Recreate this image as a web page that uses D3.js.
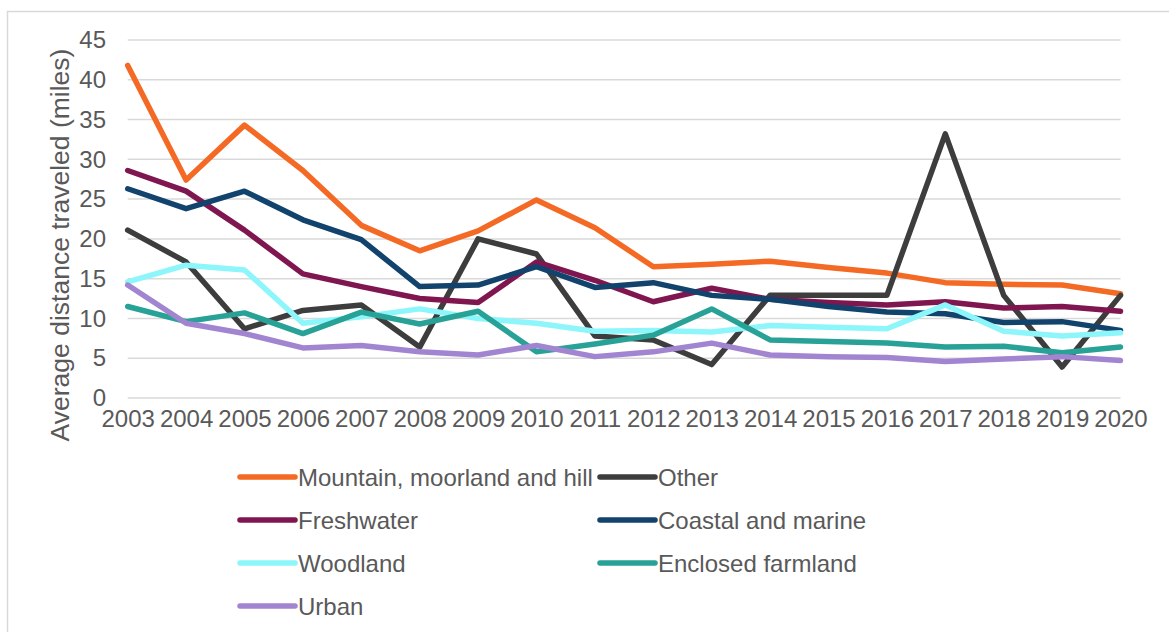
<!DOCTYPE html>
<html><head><meta charset="utf-8">
<script src="https://cdn.jsdelivr.net/npm/d3@7"></script>
<style>body{margin:0;background:#fff}svg{display:block;font-family:Arial,"Liberation Sans",sans-serif}</style>
</head><body><svg id="c" width="1169" height="632"></svg>
<script>
const years = [2003,2004,2005,2006,2007,2008,2009,2010,2011,2012,2013,2014,2015,2016,2017,2018,2019,2020];
const yTicks = [0,5,10,15,20,25,30,35,40,45];
const seriesNames = ["Mountain, moorland and hill","Other","Freshwater","Coastal and marine","Woodland","Enclosed farmland","Urban"];
const seriesColors = ["#F46A25","#3D3D3D","#801650","#12436D","#8CF6FB","#28A197","#A285D1"];
const mountain  = [41.8,27.4,34.3,28.6,21.7,18.5,21.0,24.9,21.4,16.5,16.8,17.2,16.4,15.7,14.5,14.3,14.2,13.1];
const other     = [21.1,17.1,8.7,11.0,11.7,6.4,20.0,18.1,7.8,7.3,4.2,12.9,12.9,12.9,33.2,12.9,3.9,12.9];
const freshwater= [28.6,26.0,21.1,15.6,14.0,12.5,12.0,17.1,14.8,12.1,13.8,12.4,12.0,11.7,12.1,11.3,11.5,10.9];
const coastal   = [26.3,23.8,26.0,22.4,19.9,14.0,14.2,16.5,13.9,14.5,12.9,12.4,11.5,10.8,10.6,9.5,9.6,8.5];
const woodland  = [14.6,16.7,16.1,9.4,10.2,11.2,10.0,9.4,8.4,8.5,8.3,9.1,8.9,8.7,11.7,8.4,7.8,8.2];
const farmland  = [11.5,9.6,10.7,8.1,10.8,9.3,10.9,5.8,6.8,7.9,11.2,7.3,7.1,6.9,6.4,6.5,5.7,6.4];
const urban     = [14.2,9.4,8.1,6.3,6.6,5.8,5.4,6.6,5.2,5.8,6.9,5.4,5.2,5.1,4.6,4.9,5.2,4.7];
const seriesValues = [mountain,other,freshwater,coastal,woodland,farmland,urban];

const svg = d3.select("#c");
const textColor = "#595959";
// chart border
svg.append("rect").attr("x",7.5).attr("y",11.5).attr("width",1300).attr("height",800)
  .attr("fill","none").attr("stroke","#d9d9d9").attr("stroke-width",1.5);

const x = d3.scalePoint().domain(years).range([127.7,1120.5]);
const y = d3.scaleLinear().domain([0,45]).range([398,40]);

// gridlines
svg.append("g").selectAll("line").data(yTicks).join("line")
  .attr("x1",x.range()[0]).attr("x2",x.range()[1])
  .attr("y1",d=>y(d)).attr("y2",d=>y(d))
  .attr("stroke","#d9d9d9").attr("stroke-width",1.5);

// y axis labels
const ya = svg.append("g").attr("transform","translate(106,0)")
  .call(d3.axisLeft(y).tickValues(yTicks).tickSize(0).tickPadding(0));
ya.select(".domain").remove();
ya.selectAll("text").attr("fill",textColor).style("font-size","24px").attr("font-family","Arial, 'Liberation Sans', sans-serif");

// x axis labels
const xa = svg.append("g").attr("transform","translate(0,410)")
  .call(d3.axisBottom(x).tickSize(0).tickPadding(0).tickFormat(d3.format("d")));
xa.select(".domain").remove();
xa.selectAll("text").attr("fill",textColor).style("font-size","24px").attr("font-family","Arial, 'Liberation Sans', sans-serif");

// title
svg.append("text").attr("transform","translate(69,245) rotate(-90)")
  .attr("text-anchor","middle").attr("fill",textColor).style("font-size","26.5px")
  .text("Average distance traveled (miles)");

// lines
const line = d3.line().x((d,i)=>x(years[i])).y(d=>y(d));
svg.append("g").selectAll("path").data(seriesValues).join("path")
  .attr("d",line).attr("fill","none")
  .attr("stroke",(d,i)=>seriesColors[i]).attr("stroke-width",5.5)
  .attr("stroke-linejoin","round").attr("stroke-linecap","round");

// legend
const colX = [240,600];
const rowY = [477,520,563,606];
const lg = svg.append("g").selectAll("g").data(seriesNames).join("g")
  .attr("transform",(d,i)=>`translate(${colX[i%2]},${rowY[Math.floor(i/2)]})`);
lg.append("line").attr("x1",0).attr("x2",55).attr("y1",0).attr("y2",0)
  .attr("stroke",(d,i)=>seriesColors[i]).attr("stroke-width",5.5).attr("stroke-linecap","round");
lg.append("text").attr("x",58).attr("y",8.5).attr("fill",textColor).style("font-size","24px").text(d=>d);
</script></body></html>
